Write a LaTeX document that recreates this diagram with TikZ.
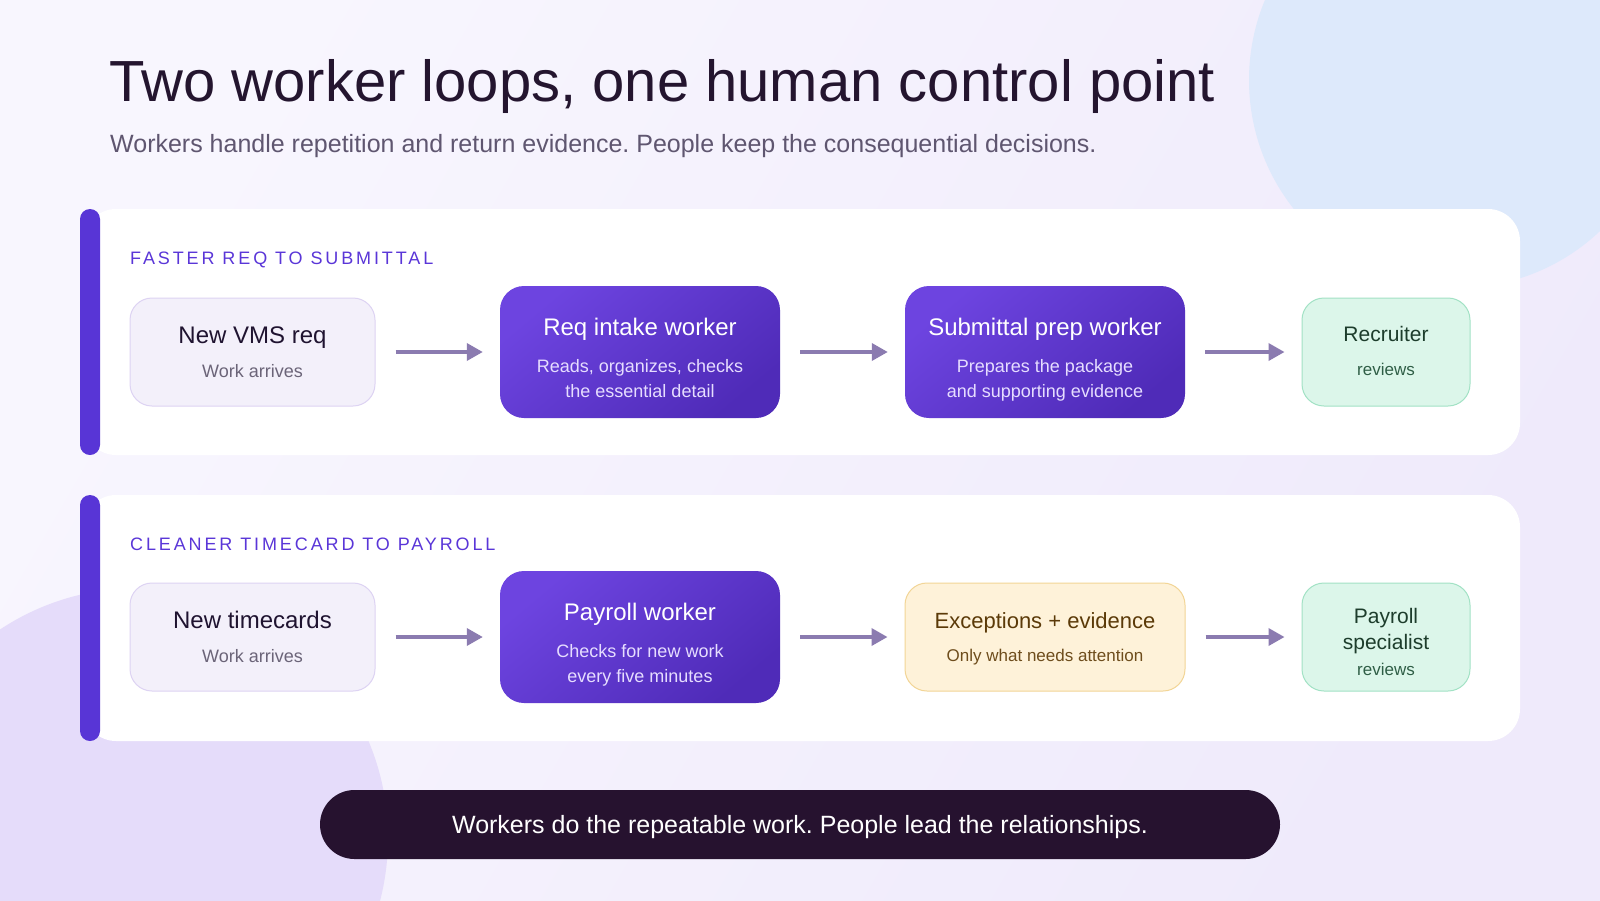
\documentclass[tikz,border=0pt]{standalone}
\usepackage{fontspec}
\setmainfont{Liberation Sans}
\newfontfamily\labelfont[LetterSpace=16]{Liberation Sans}
\usetikzlibrary{arrows.meta}
\frenchspacing
\definecolor{bgA}{HTML}{F8F6FE}
\definecolor{bgB}{HTML}{EFEAFB}
\definecolor{blobblue}{HTML}{DDE9FB}
\definecolor{blobpurple}{HTML}{E5DCFA}
\definecolor{barc}{HTML}{5835D6}
\definecolor{labelc}{HTML}{5A36D8}
\definecolor{titlec}{HTML}{24152F}
\definecolor{subc}{HTML}{5F5670}
\definecolor{inFill}{HTML}{F3F0FA}
\definecolor{inDraw}{HTML}{DDD3F3}
\definecolor{inTitle}{HTML}{1F1330}
\definecolor{inSub}{HTML}{6B6478}
\definecolor{wA}{HTML}{6D44E0}
\definecolor{wB}{HTML}{4F2BB8}
\definecolor{wSub}{HTML}{E6DDFF}
\definecolor{gFill}{HTML}{DCF6EA}
\definecolor{gDraw}{HTML}{A2E2C5}
\definecolor{gTitle}{HTML}{1D3D2C}
\definecolor{gSub}{HTML}{2F5E46}
\definecolor{yFill}{HTML}{FEF2D9}
\definecolor{yDraw}{HTML}{F2D596}
\definecolor{yTitle}{HTML}{5B3A08}
\definecolor{ySub}{HTML}{6E4D1C}
\definecolor{arrowc}{HTML}{8B7BB0}
\definecolor{pillc}{HTML}{26122F}
\tikzset{
  card/.style={fill=white, draw=none, rounded corners=32pt, inner sep=0pt, minimum width=1436pt, minimum height=246pt},
  accent/.style={fill=barc, draw=none, rounded corners=10pt, inner sep=0pt, minimum width=20pt, minimum height=246pt},
  inbox/.style={fill=inFill, draw=inDraw, line width=1pt, rounded corners=22pt, inner sep=0pt, minimum width=245pt, minimum height=108pt},
  workbox/.style={top color=wA, bottom color=wB, shading angle=40, draw=none, rounded corners=24pt, inner sep=0pt, minimum width=280pt, minimum height=132pt},
  humanbox/.style={fill=gFill, draw=gDraw, line width=1pt, rounded corners=22pt, inner sep=0pt, minimum width=168pt, minimum height=108pt},
  exbox/.style={fill=yFill, draw=yDraw, line width=1pt, rounded corners=22pt, inner sep=0pt, minimum width=280pt, minimum height=108pt},
  flow/.style={draw=arrowc, line width=3.5pt, -{Triangle[length=16pt,width=17pt]}, shorten <=20pt, shorten >=17pt},
  txt/.style={anchor=base, inner sep=0pt},
  lab/.style={anchor=base west, inner sep=0pt, text=labelc, font=\labelfont\fontsize{18}{20}\selectfont},
  intitle/.style={txt, text=inTitle, font=\fontsize{24}{28}\selectfont},
  insub/.style={txt, text=inSub, font=\fontsize{18}{22}\selectfont},
  wtitle/.style={txt, text=white, font=\fontsize{24}{28}\selectfont},
  wsub/.style={txt, text=wSub, font=\fontsize{18}{22}\selectfont},
  gtitle/.style={txt, text=gTitle, font=\fontsize{21}{25}\selectfont},
  gsub/.style={txt, text=gSub, font=\fontsize{17}{20}\selectfont},
  ytitle/.style={txt, text=yTitle, font=\fontsize{22}{26}\selectfont},
  ysub/.style={txt, text=ySub, font=\fontsize{17}{20}\selectfont},
}
\begin{document}
\begin{tikzpicture}[x=1pt, y=-1pt]
\useasboundingbox (0,0) rectangle (1600,900);
\begin{scope}
  \clip (0,0) rectangle (1600,900);
  \shade[left color=bgA, right color=bgB, shading angle=60] (0,0) rectangle (1600,900);
  \fill[blobblue] (1457,80) circle[radius=208pt];
  \fill[blobpurple] (138,838) circle[radius=250pt];
\end{scope}

% heading
\node[anchor=base west, inner sep=0pt, text=titlec, font=\fontsize{58}{62}\selectfont] (title) at (109,101) {Two worker loops, one human control point};
\node[anchor=base west, inner sep=0pt, text=subc, font=\fontsize{25}{28}\selectfont] (subtitle) at (110,152) {Workers handle repetition and return evidence. People keep the consequential decisions.};

% card 1
\node[card] (card1) at (802,332) {};
\node[accent] (bar1) at (90,332) {};
\node[lab] (lab1) at (130,264) {FASTER REQ TO SUBMITTAL};

\node[inbox] (a1) at (252.5,352) {};
\node[intitle] (a1t) at (252.5,343) {New VMS req};
\node[insub] (a1s) at (252.5,377) {Work arrives};

\node[workbox] (a2) at (640,352) {};
\node[wtitle] (a2t) at (640,335) {Req intake worker};
\node[wsub] (a2s1) at (640,372) {Reads, organizes, checks};
\node[wsub] (a2s2) at (640,397) {the essential detail};

\node[workbox] (a3) at (1045,352) {};
\node[wtitle] (a3t) at (1045,335) {Submittal prep worker};
\node[wsub] (a3s1) at (1045,372) {Prepares the package};
\node[wsub] (a3s2) at (1045,397) {and supporting evidence};

\node[humanbox] (a4) at (1386,352) {};
\node[gtitle] (a4t) at (1386,341) {Recruiter};
\node[gsub] (a4s) at (1386,375) {reviews};

\draw[flow] (a1.east) -- (a2.west);
\draw[flow] (a2.east) -- (a3.west);
\draw[flow] (a3.east) -- (a4.west);

% card 2
\node[card] (card2) at (802,618) {};
\node[accent] (bar2) at (90,618) {};
\node[lab] (lab2) at (130,550) {CLEANER TIMECARD TO PAYROLL};

\node[inbox] (b1) at (252.5,637) {};
\node[intitle] (b1t) at (252.5,628) {New timecards};
\node[insub] (b1s) at (252.5,662) {Work arrives};

\node[workbox] (b2) at (640,637) {};
\node[wtitle] (b2t) at (640,620) {Payroll worker};
\node[wsub] (b2s1) at (640,657) {Checks for new work};
\node[wsub] (b2s2) at (640,682) {every five minutes};

\node[exbox] (b3) at (1045,637) {};
\node[ytitle] (b3t) at (1045,628) {Exceptions + evidence};
\node[ysub] (b3s) at (1045,661) {Only what needs attention};

\node[humanbox] (b4) at (1386,637) {};
\node[gtitle] (b4t1) at (1386,623) {Payroll};
\node[gtitle] (b4t2) at (1386,649) {specialist};
\node[gsub] (b4s) at (1386,675) {reviews};

\draw[flow] (b1.east) -- (b2.west);
\draw[flow] (b2.east) -- (b3.west);
\draw[flow] (b3.east) -- (b4.west);

% bottom pill
\node[fill=pillc, draw=none, rounded corners=34.5pt, inner sep=0pt, minimum width=960pt, minimum height=69pt] (pill) at (800,824.5) {};
\node[txt, text=white, font=\fontsize{25}{28}\selectfont] (pillt) at (800,833.5) {Workers do the repeatable work. People lead the relationships.};
\end{tikzpicture}
\end{document}
